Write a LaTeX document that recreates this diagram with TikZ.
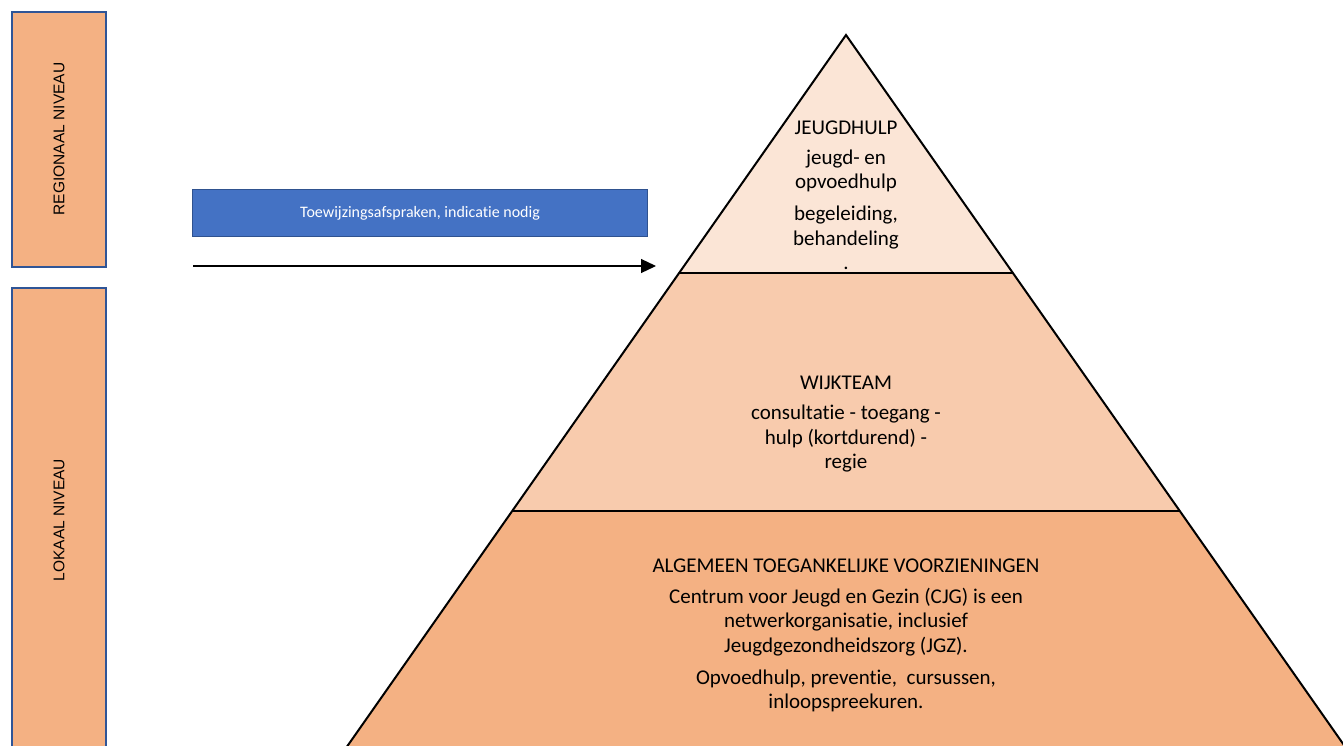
\documentclass[tikz,border=0pt]{standalone}
\usepackage{fontspec}
\setmainfont{Carlito}[Ligatures={NoCommon,NoContextual}]
\newfontfamily\arialfont{Liberation Sans}
\usetikzlibrary{arrows.meta}
\definecolor{lvlfill}{HTML}{F4B183}
\definecolor{lvlborder}{HTML}{2F5597}
\definecolor{bluefill}{HTML}{4472C4}
\definecolor{blueborder}{HTML}{2F528F}
\definecolor{tiertop}{HTML}{FBE5D6}
\definecolor{tiermid}{HTML}{F8CBAD}
\definecolor{tierbot}{HTML}{F4B183}
\tikzset{
  levelbox/.style={draw=lvlborder, line width=2pt, fill=lvlfill},
  leveltext/.style={rotate=90, font=\arialfont\fontsize{15.5}{18}\selectfont, text=black},
  tiertext/.style={align=center, font=\fontsize{21}{24.5}\selectfont, text=black, inner sep=0pt},
  tierline/.style={draw=black, line width=2pt},
}
\begin{document}
\begin{tikzpicture}[x=1pt,y=-1pt]
\useasboundingbox (0,0) rectangle (1343,745);
\clip (0,0) rectangle (1343,745);
% level boxes
\draw[levelbox] (12,12) rectangle (106,267);
\node[leveltext] (reg) at (59,139) {REGIONAAL NIVEAU};
\draw[levelbox] (12,288) rectangle (106,760);
\node[leveltext] (lok) at (59,520) {LOKAAL NIVEAU};
% blue box and arrow
\node[draw=blueborder, line width=1.5pt, fill=bluefill, minimum width=455pt, minimum height=47pt, inner sep=0pt,
      font=\fontsize{16}{18}\selectfont, text=white] (toew) at (420,213) {Toewijzingsafspraken, indicatie nodig};
\coordinate (arrS) at (193,266);
\coordinate (arrE) at (656,266);
\draw[line width=1.2pt, -{Triangle[length=15pt, width=14pt]}] (arrS) -- (arrE);
% pyramid
\coordinate (apex) at (846,35);
\coordinate (tl) at (679,273);
\coordinate (tr) at (1013,273);
\coordinate (ml) at (512,511);
\coordinate (mr) at (1180,511);
\coordinate (bl) at (346,748);
\coordinate (br) at (1346,748);
\fill[tierbot] (ml) -- (mr) -- (br) -- (bl) -- cycle;
\fill[tiermid] (tl) -- (tr) -- (mr) -- (ml) -- cycle;
\fill[tiertop] (apex) -- (tr) -- (tl) -- cycle;
\draw[tierline, line join=miter] (bl) -- (apex) -- (br);
\draw[tierline] (tl) -- (tr);
\draw[tierline] (ml) -- (mr);
% texts
\node[tiertext] (j1) at (846,128) {JEUGDHULP};
\node[tiertext] (j2) at (846,171) {jeugd- en\\opvoedhulp};
\node[tiertext] (j3) at (846,238) {begeleiding,\\behandeling\\.};
\node[tiertext] (w1) at (846,383) {WIJKTEAM};
\node[tiertext] (w2) at (846,439) {consultatie - toegang -\\hulp (kortdurend) -\\regie};
\node[tiertext] (a1) at (846,566) {ALGEMEEN TOEGANKELIJKE VOORZIENINGEN};
\node[tiertext] (a2) at (846,622) {Centrum voor Jeugd en Gezin (CJG) is een\\netwerkorganisatie, inclusief\\Jeugdgezondheidszorg (JGZ).};
\node[tiertext] (a3) at (846,691) {Opvoedhulp, preventie,\ \ cursussen,\\inloopspreekuren.};
\end{tikzpicture}
\end{document}
